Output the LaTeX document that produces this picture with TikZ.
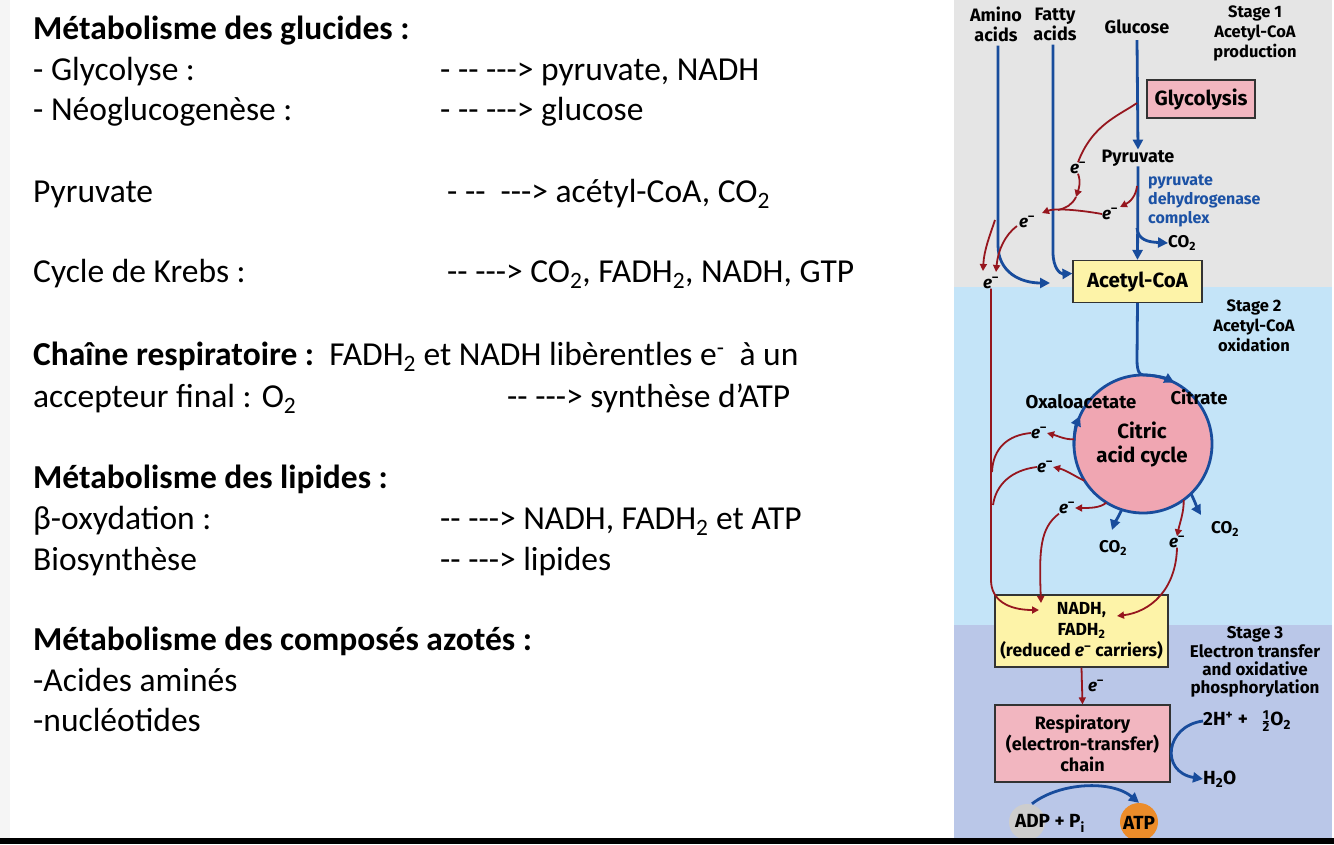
\documentclass[tikz,border=0pt]{standalone}
\usepackage{fontspec}
\newfontfamily\lfont{Carlito}
\newfontfamily\dfont{Fira Sans}
\usetikzlibrary{arrows.meta}
\definecolor{bgA}{RGB}{229,229,229}
\definecolor{bgB}{RGB}{196,228,248}
\definecolor{bgC}{RGB}{186,199,232}
\definecolor{pinkbox}{RGB}{242,182,192}
\definecolor{cycfill}{RGB}{240,166,178}
\definecolor{yel}{RGB}{253,243,168}
\definecolor{bl}{RGB}{24,76,156}
\definecolor{rd}{RGB}{150,22,30}
\definecolor{bltxt}{RGB}{28,82,165}
\definecolor{atpor}{RGB}{236,140,42}
\definecolor{adpgr}{RGB}{205,205,205}
\newcommand\sbs[1]{\textsubscript{#1}}
\newcommand\emin{\textit{e}\textsuperscript{–}}
\newcommand\halffrac{$\frac{\mbox{\fontsize{13}{13}\selectfont 1}}{\mbox{\fontsize{13}{13}\selectfont 2}}$}
\tikzset{
  ltxt/.style={anchor=base west,inner sep=0pt,font=\lfont\fontsize{33.5}{40}\selectfont},
  dtxt/.style={inner sep=0pt,align=center,font=\dfont\bfseries\fontsize{18}{20}\selectfont},
  stagetxt/.style={inner sep=0pt,align=center,font=\dfont\bfseries\fontsize{16.5}{20}\selectfont},
  etxt/.style={inner sep=0pt,font=\dfont\bfseries\fontsize{17}{20}\selectfont},
  bigtxt/.style={inner sep=0pt,font=\dfont\bfseries\fontsize{19}{22}\selectfont},
  boxp/.style={draw=black!80,line width=1.2pt,fill=pinkbox,inner sep=0pt,align=center},
  boxy/.style={draw=black!80,line width=1.2pt,fill=yel,inner sep=0pt,align=center},
  bar/.style={draw=bl,line width=2.8pt,-{Triangle[length=10pt,width=10pt]}},
  barn/.style={draw=bl,line width=2.8pt},
  rar/.style={draw=rd,line width=1.8pt,-{Triangle[length=7pt,width=7pt]}},
  rarn/.style={draw=rd,line width=1.8pt},
}
\begin{document}
\begin{tikzpicture}[x=1pt,y=1pt]
\useasboundingbox (0,0) rectangle (1334,-844);
\fill[white] (0,0) rectangle (1334,-844);
\fill[black!4] (0,0) rectangle (10,-838);
% panel backgrounds
\fill[bgA] (954,0) rectangle (1332,-287);
\fill[bgB] (954,-287) rectangle (1332,-625);
\fill[bgC] (954,-625) rectangle (1332,-838);
% ---------- left text ----------
\node[ltxt] (t1) at (33,-39) {\bfseries Métabolisme des glucides :};
\node[ltxt] (t2) at (33,-80) {- Glycolyse :};
\node[ltxt] (t2r) at (440,-80) {- -- ---> pyruvate, NADH};
\node[ltxt] (t3) at (33,-120) {- Néoglucogenèse :};
\node[ltxt] (t3r) at (440,-120) {- -- ---> glucose};
\node[ltxt] (t4) at (33,-202) {Pyruvate};
\node[ltxt] (t4r) at (447,-202) {- --\ \ ---> acétyl-CoA, CO\sbs{2}};
\node[ltxt] (t5) at (33,-282) {Cycle de Krebs :};
\node[ltxt] (t5r) at (447,-282) {-- ---> CO\sbs{2}, FADH\sbs{2}, NADH, GTP};
\node[ltxt] (t6) at (33,-365) {\bfseries Chaîne respiratoire :\ \ \mdseries FADH\sbs{2} et NADH libèrentles e\textsuperscript{-}\ \ à un};
\node[ltxt] (t7) at (33,-407) {accepteur final : O\sbs{2}};
\node[ltxt] (t7r) at (507,-407) {-- ---> synthèse d’ATP};
\node[ltxt] (t8) at (33,-488) {\bfseries Métabolisme des lipides :};
\node[ltxt] (t9) at (33,-529) {β-oxydation :};
\node[ltxt] (t9r) at (440,-529) {-- ---> NADH, FADH\sbs{2} et ATP};
\node[ltxt] (t10) at (33,-570) {Biosynthèse};
\node[ltxt] (t10r) at (440,-570) {-- ---> lipides};
\node[ltxt] (t11) at (33,-650) {\bfseries Métabolisme des composés azotés :};
\node[ltxt] (t12) at (33,-691) {-Acides aminés};
\node[ltxt] (t13) at (33,-731) {-nucléotides};
% ---------- diagram nodes ----------
\node[dtxt] (amino) at (996,-24) {Amino\\acids};
\node[dtxt] (fatty) at (1055,-24) {Fatty\\acids};
\node[dtxt] (gluc) at (1137,-27) {Glucose};
\node[stagetxt] (st1) at (1255,-33) {Stage 1\\Acetyl-CoA\\production};
\node[boxp,minimum width=108,minimum height=38,font=\dfont\bfseries\fontsize{20.5}{22}\selectfont] (gly) at (1201,-99) {Glycolysis};
\node[dtxt] (pyr) at (1138,-158) {Pyruvate};
\node[inner sep=0pt,align=left,anchor=west,text=bltxt,font=\dfont\bfseries\fontsize{16}{19}\selectfont] (pdh) at (1148,-201) {pyruvate\\dehydrogenase\\complex};
\node[etxt,anchor=west] (co2a) at (1168,-243) {CO\sbs{2}};
\node[boxy,minimum width=129,minimum height=42,font=\dfont\bfseries\fontsize{20.5}{22}\selectfont] (act) at (1137.5,-281.5) {Acetyl-CoA};
\node[stagetxt] (st2) at (1254,-326) {Stage 2\\Acetyl-CoA\\oxidation};
\node[circle,fill=cycfill,minimum size=138,inner sep=0pt] (cyc) at (1143,-444) {};
\draw[bl,line width=2.8pt] (cyc.center) circle (69);
\node[dtxt,font=\dfont\bfseries\fontsize{20.5}{24}\selectfont] (cyct) at (1142,-444) {Citric\\acid cycle};
\node[etxt,font=\dfont\bfseries\fontsize{18.5}{20}\selectfont] (oxa) at (1081,-402) {Oxaloacetate};
\node[etxt,font=\dfont\bfseries\fontsize{18.5}{20}\selectfont] (cit) at (1199,-397) {Citrate};
\node[etxt] (co2b) at (1113,-548) {CO\sbs{2}};
\node[etxt] (co2c) at (1225,-529) {CO\sbs{2}};
\node[boxy,minimum width=173,minimum height=72,font=\dfont\bfseries\fontsize{17.5}{21}\selectfont] (nadh) at (1081.5,-631) {NADH,\\FADH\sbs{2}\\(reduced \emin\ carriers)};
\node[stagetxt,font=\dfont\bfseries\fontsize{17}{18.3}\selectfont] (st3) at (1255,-662) {Stage 3\\Electron transfer\\and oxidative\\phosphorylation};
\node[boxp,minimum width=175,minimum height=77,font=\dfont\bfseries\fontsize{18}{21}\selectfont] (resp) at (1082.5,-743.5) {Respiratory\\(electron-transfer)\\chain};
\node[bigtxt,anchor=west] (hplus) at (1203,-721) {2H\textsuperscript{+} +\ \ \ \halffrac O\sbs{2}};
\node[bigtxt,anchor=west] (h2o) at (1203,-779) {H\sbs{2}O};
\node[circle,fill=adpgr,minimum size=36,inner sep=0pt] (adp) at (1027,-822) {};
\node[circle,fill=atpor,minimum size=38,inner sep=0pt] (atp) at (1139,-822) {};
\node[bigtxt] (adpt) at (1050,-823) {ADP + P\sbs{i}};
\node[bigtxt] (atpt) at (1139,-823) {ATP};
% e- labels
\node[etxt] (e1) at (1078,-168) {\emin};
\node[etxt] (e2) at (1110,-214) {\emin};
\node[etxt] (e3) at (1027,-222) {\emin};
\node[etxt] (e4) at (991,-283) {\emin};
\node[etxt] (e5) at (1039,-433) {\emin};
\node[etxt] (e6) at (1045,-467) {\emin};
\node[etxt] (e7) at (1067,-508) {\emin};
\node[etxt] (e8) at (1177,-542) {\emin};
\node[etxt] (e9) at (1096,-686) {\emin};
\coordinate (aminoEnd) at (1050,-283);
\coordinate (co2bEnd) at (1112,-530);
\coordinate (co2cEnd) at (1201,-515);
% ---------- blue connectors ----------
\draw[bar] (amino.south) ++(2,-4) -- (998,-245) .. controls (998,-272) and (1020,-283) .. (aminoEnd);
\draw[bar] (fatty.south) ++(-2,-4) -- (1053,-252) .. controls (1053,-268) and (1060,-274) .. ([yshift=8]act.west);
\draw[bar] (gluc.south) ++(0,-6) -- (pyr.north);
\draw[bar] (pyr.south) -- (act.north);
\draw[bar] (1137,-228) .. controls (1138,-240) and (1148,-242) .. (co2a.west);
\draw[barn] (act.south) -- (1137,-360) .. controls (1137,-372) and (1140,-375) .. (cyc.north);
\draw[bar] (cyc.center) ++(90:69) arc[start angle=90,end angle=63,radius=69];
\draw[bar] (cyc.center) ++(182:69) arc[start angle=182,end angle=156,radius=69];
\draw[bar] (cyc.252) .. controls (1118,-518) and (1114,-524) .. (co2bEnd);
\draw[bar] (cyc.314) .. controls (1196,-504) and (1198,-510) .. (co2cEnd);
\draw[bar] (hplus.west) .. controls (1165,-726) and (1160,-772) .. (h2o.west);
\draw[bar] (adp.north) ++(5,0) .. controls (1060,-782) and (1112,-780) .. (atp.north);
% ---------- red connectors ----------
\draw[rarn] (1137,-103) .. controls (1118,-116) and (1092,-125) .. (e1.north);
\draw[rar] (e1.south) .. controls (1081,-182) and (1079,-188) .. (1076,-197);
\draw[rarn] (1076,-197) .. controls (1072,-205) and (1066,-208) .. (1058,-210);
\draw[rar] (1137,-186) .. controls (1136,-196) and (1130,-202) .. (1120,-207);
\draw[rar] (e2.west) .. controls (1080,-210) and (1055,-208) .. (1042,-213);
\draw[rar] (e3.west) ++(-2,-4) .. controls (1005,-235) and (998,-250) .. (996,-272);
\draw[rar] (995,-220) .. controls (990,-235) and (984,-250) .. (983,-271);
\draw[rar] (e4.south) -- (991,-580) .. controls (991,-600) and (1008,-610) .. (1039,-610);
\draw[rar] (cyc.176) .. controls (1066,-440) and (1058,-436) .. (e5.east);
\draw[rar] (cyc.212) .. controls (1078,-478) and (1066,-470) .. (e6.east);
\draw[rar] (cyc.238) .. controls (1100,-508) and (1090,-508) .. (e7.east);
\draw[rar] (cyc.306) .. controls (1184,-512) and (1180,-522) .. (e8.north);
\draw[rarn] (e5.west) .. controls (1008,-435) and (993,-448) .. (992,-472);
\draw[rarn] (e6.west) .. controls (1012,-470) and (996,-484) .. (993,-505);
\draw[rar] (e7.south west) .. controls (1040,-528) and (1039,-550) .. (1041,-603);
\draw[rar] (e8.south) .. controls (1176,-590) and (1150,-612) .. (1117,-616);
\draw[rar] (nadh.south) -- (resp.north);
% bottom bar
\fill[black] (0,-838) rectangle (1334,-844);
\end{tikzpicture}
\end{document}
